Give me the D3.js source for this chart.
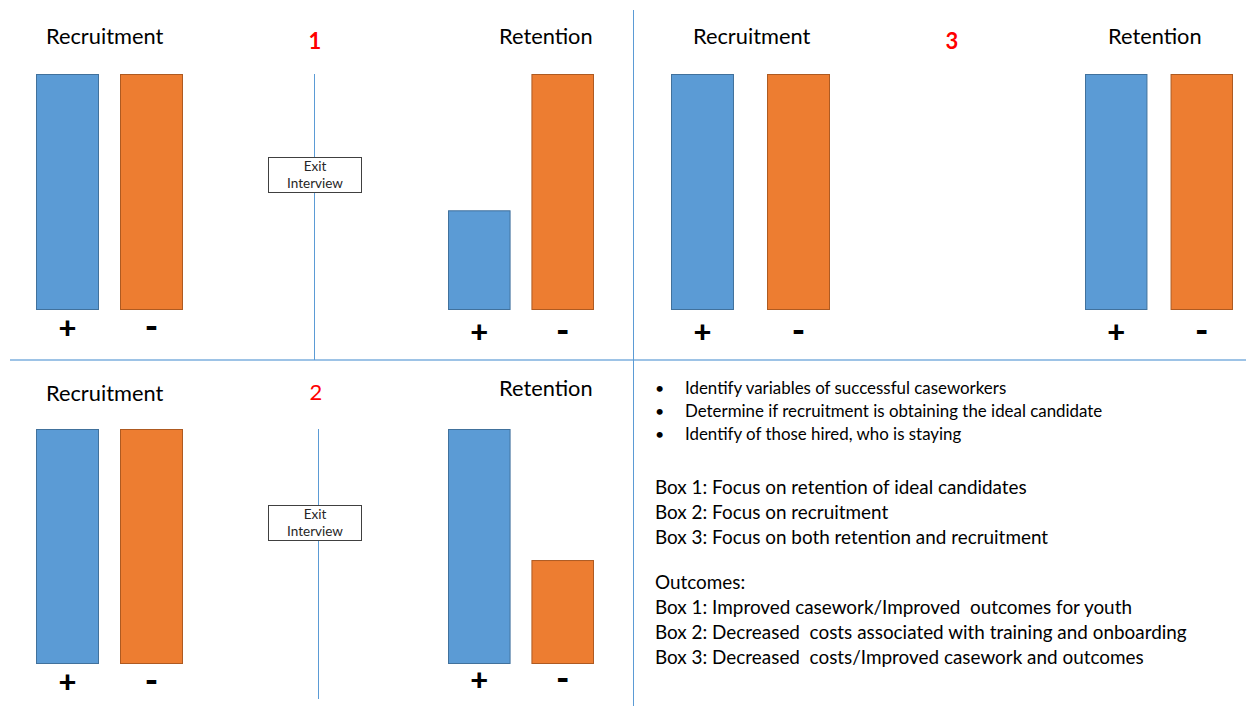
<!DOCTYPE html>
<html><head><meta charset="utf-8">
<script src="https://cdn.jsdelivr.net/npm/d3@7"></script>
<style>body{margin:0;background:#fff}svg{display:block}text{font-family:Lato,"Open Sans",sans-serif;white-space:pre}</style>
</head><body>
<svg id="c" width="1246" height="706"></svg>
<script>
// ---- data ----
const categories = ["+", "-"];
const panelNames = ["1", "2", "3"];
const p1Recruitment = [100, 100];
const p1Retention = [42, 100];
const p2Recruitment = [100, 100];
const p2Retention = [100, 44];
const p3Recruitment = [100, 100];
const p3Retention = [100, 100];
const bulletLines = ["Identify variables of successful caseworkers","Determine if recruitment is obtaining the ideal candidate","Identify of those hired, who is staying"];
const boxLines = ["Box 1: Focus on retention of ideal candidates","Box 2: Focus on recruitment","Box 3: Focus on both retention and recruitment"];
const outcomeLines = ["Outcomes:","Box 1: Improved casework/Improved  outcomes for youth","Box 2: Decreased  costs associated with training and onboarding","Box 3: Decreased  costs/Improved casework and outcomes"];

const svg = d3.select("#c");
const colors = d3.scaleOrdinal().domain(categories).range(["#5b9bd5", "#ed7d31"]);
const strokes = d3.scaleOrdinal().domain(categories).range(["#41719c", "#ae5a21"]);

// layout lines
svg.append("line").attr("x1",10).attr("x2",1246).attr("y1",360).attr("y2",360).attr("stroke","#9dc3e6").attr("stroke-width",2);
svg.append("line").attr("x1",633.5).attr("x2",633.5).attr("y1",10).attr("y2",706).attr("stroke","#5b9bd5").attr("stroke-width",1);
svg.append("line").attr("x1",314.5).attr("x2",314.5).attr("y1",74).attr("y2",360).attr("stroke","#5b9bd5").attr("stroke-width",1);
svg.append("line").attr("x1",318.5).attr("x2",318.5).attr("y1",429).attr("y2",699).attr("stroke","#5b9bd5").attr("stroke-width",1);

function group(values, range, inner, yRange, signY, title, titleX, titleY){
  const x = d3.scaleBand().domain(categories).range(range).paddingInner(inner).paddingOuter(0);
  const y = d3.scaleLinear().domain([0,100]).range(yRange);
  const g = svg.append("g");
  g.selectAll("rect").data(categories).join("rect")
    .attr("x", d => x(d)+0.5).attr("width", x.bandwidth()-1)
    .attr("y", (d,i) => y(values[i])+0.5).attr("height", (d,i) => y(0)-y(values[i]))
    .attr("fill", d => colors(d)).attr("stroke", d => strokes(d)).attr("stroke-width",1);
  g.selectAll("text.sign").data(categories).join("text").attr("class","sign")
    .attr("x", d => x(d)+x.bandwidth()/2).attr("y", signY)
    .attr("text-anchor","middle").attr("font-size", d => d === "-" ? 36 : 31).attr("font-weight","900").attr("fill","#000")
    .text(d => d);
  g.append("text").attr("x", titleX).attr("y", titleY).attr("font-size",21.8).attr("fill","#000").text(title);
}

group(p1Recruitment,[36,183],0.25,[309,74],339,"Recruitment",46,44);
group(p1Retention,[448,594],0.25,[309,74],343,"Retention",499,44);
group(p2Recruitment,[36,183],0.25,[663,429],693,"Recruitment",46,401);
group(p2Retention,[448,594],0.25,[663,429],691,"Retention",499,396);
group(p3Recruitment,[671,830],0.344,[309,74],343,"Recruitment",693,44);
group(p3Retention,[1085,1233],0.27,[309,74],343,"Retention",1108,44);

// panel numbers
svg.append("text").attr("x",315).attr("y",49).attr("text-anchor","middle").attr("font-size",22).attr("font-weight","bold").attr("fill","#ff0000").text(panelNames[0]);
svg.append("text").attr("x",316).attr("y",400).attr("text-anchor","middle").attr("font-size",22).attr("fill","#ff0000").text(panelNames[1]);
svg.append("text").attr("x",952).attr("y",49).attr("text-anchor","middle").attr("font-size",22).attr("font-weight","bold").attr("fill","#ff0000").text(panelNames[2]);

// exit interview boxes
[[157],[505]].forEach(([top]) => {
  svg.append("rect").attr("x",268.5).attr("y",top+0.5).attr("width",93).attr("height",35).attr("fill","#fff").attr("stroke","#404040").attr("stroke-width",1);
  svg.append("text").attr("x",315).attr("y",top+14).attr("text-anchor","middle").attr("font-size",13.5).attr("fill","#262626").text("Exit");
  svg.append("text").attr("x",315).attr("y",top+31).attr("text-anchor","middle").attr("font-size",13.5).attr("fill","#262626").text("Interview");
});

// bullets
bulletLines.forEach((t,i) => {
  svg.append("text").attr("x",655).attr("y",394+i*23).attr("font-size",16).attr("fill","#000").text("\u2022");
  svg.append("text").attr("x",685).attr("y",394+i*23).attr("font-size",16.9).attr("fill","#000").text(t);
});
boxLines.forEach((t,i) => {
  svg.append("text").attr("x",655).attr("y",494+i*25).attr("font-size",18.9).attr("fill","#000").text(t);
});
outcomeLines.forEach((t,i) => {
  svg.append("text").attr("x",655).attr("y",589+i*25).attr("font-size",18.9).attr("fill","#000").text(t);
});
</script>
</body></html>
